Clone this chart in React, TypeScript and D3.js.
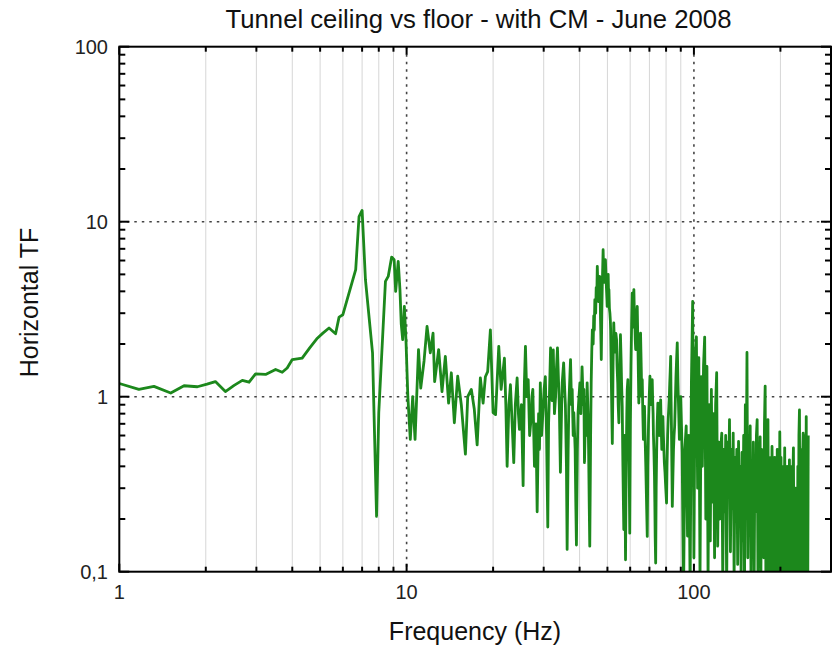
import React from "react";
import * as d3 from "d3";

// Frequency (Hz) / transfer-function pairs, 1–11 Hz
const lowBand: [number, number][] = [
  [1.0, 1.19], [1.17, 1.1], [1.32, 1.145], [1.51, 1.05], [1.68, 1.155], [1.87, 1.14],
  [2.02, 1.18], [2.16, 1.22], [2.34, 1.07], [2.51, 1.16], [2.68, 1.24], [2.83, 1.21],
  [2.98, 1.35], [3.23, 1.34], [3.5, 1.43], [3.69, 1.38], [3.84, 1.46], [4.0, 1.63],
  [4.33, 1.66], [4.6, 1.9], [4.89, 2.16], [5.1, 2.3], [5.37, 2.47], [5.66, 2.29],
  [5.82, 2.85], [6.0, 2.94], [6.65, 5.32], [6.83, 10.7], [7.0, 11.6], [7.19, 4.66],
  [7.61, 1.78], [7.86, 0.207], [8.0, 0.81], [8.44, 4.56], [8.63, 4.87], [8.87, 6.28],
  [9.05, 6.06], [9.16, 4.0], [9.35, 5.94], [9.48, 4.1], [9.58, 2.6], [9.69, 2.12],
  [9.82, 3.28], [9.95, 2.1], [10.1, 1.0], [10.3, 0.57], [10.5, 1.0], [10.7, 0.57],
];

// 11–88 Hz
const midBand: [number, number][] = [
  [11.0, 1.86], [11.2, 1.12], [11.5, 1.6], [11.78, 2.52], [12.09, 1.78], [12.36, 2.31],
  [12.52, 1.22], [12.93, 1.86], [13.28, 1.07], [13.64, 1.7], [14.0, 0.92], [14.31, 1.37],
  [14.66, 0.71], [15.06, 1.31], [15.5, 0.9], [16.02, 0.47], [16.32, 1.0], [16.8, 1.1],
  [17.2, 0.85], [17.6, 0.53], [18.06, 1.28], [18.46, 0.92], [18.8, 1.3], [19.15, 1.39],
  [19.57, 2.41], [20.0, 0.81], [20.4, 0.79], [20.93, 1.94], [21.33, 1.1], [21.9, 1.66],
  [22.15, 0.9], [22.38, 0.4], [22.7, 0.9], [22.98, 1.17], [23.3, 0.7], [23.6, 0.42],
  [23.9, 0.9], [24.25, 1.28], [24.5, 0.8], [24.7, 0.65], [25.1, 0.9], [25.44, 0.31],
  [25.7, 1.2], [25.92, 1.94], [26.2, 1.0], [26.5, 1.25], [26.8, 0.6], [27.1, 0.74],
  [27.3, 1.0], [27.5, 1.1], [27.86, 0.4], [28.2, 0.7], [28.47, 0.22], [28.8, 0.8],
  [29.0, 0.5], [29.2, 1.2], [29.5, 0.6], [29.8, 0.8], [30.1, 1.1], [30.4, 1.3],
  [30.7, 0.6], [31.0, 0.18], [31.2, 0.7], [31.4, 1.0], [31.7, 1.9], [31.9, 1.2],
  [32.1, 0.95], [32.4, 1.85], [32.7, 0.8], [33.0, 1.0], [33.2, 1.4], [33.5, 1.9],
  [33.8, 1.2], [34.0, 0.9], [34.3, 0.37], [34.6, 0.8], [34.8, 1.2], [35.2, 1.56],
  [35.5, 1.1], [35.7, 0.9], [36.0, 0.4], [36.2, 0.134], [36.5, 0.5], [36.7, 0.9],
  [37.0, 1.3], [37.2, 1.63], [37.5, 0.9], [37.7, 1.1], [38.0, 0.6], [38.2, 0.81],
  [38.6, 0.5], [38.8, 0.25], [39.0, 0.142], [39.3, 0.5], [39.5, 0.8], [39.8, 1.0],
  [40.1, 1.2], [40.4, 0.8], [40.8, 1.48], [41.2, 0.9], [41.4, 1.1], [41.6, 0.42],
  [42.0, 0.9], [42.2, 0.6], [42.5, 1.2], [42.8, 0.8], [43.0, 0.5], [43.2, 0.25],
  [43.4, 0.14], [43.7, 0.6], [43.9, 1.2], [44.1, 1.8], [44.3, 2.41], [44.6, 2.0],
  [44.8, 2.9], [45.0, 2.4], [45.2, 3.58], [45.5, 3.0], [45.7, 4.2], [45.9, 3.6],
  [46.1, 5.56], [46.3, 4.3], [46.5, 3.5], [46.8, 4.4], [47.0, 4.87], [47.2, 3.6],
  [47.3, 2.8], [47.5, 2.0], [47.6, 1.63], [47.8, 3.0], [48.0, 4.5], [48.15, 5.5],
  [48.3, 6.92], [48.5, 5.2], [48.8, 4.5], [49.0, 5.5], [49.2, 6.06], [49.4, 5.0],
  [49.6, 4.2], [49.8, 3.6], [49.9, 3.28], [50.1, 4.2], [50.3, 5.0], [50.5, 3.6],
  [50.6, 4.09], [50.8, 3.2], [51.0, 3.0], [51.2, 2.7], [51.3, 2.41], [51.6, 1.2],
  [52.0, 0.54], [52.2, 1.0], [52.3, 1.5], [52.5, 2.2], [52.6, 2.64], [52.9, 2.0],
  [53.2, 1.8], [53.5, 2.3], [53.8, 2.12], [54.0, 1.5], [54.3, 1.2], [54.5, 0.9],
  [54.8, 0.71], [55.0, 1.1], [55.2, 1.5], [55.5, 2.26], [55.8, 1.6], [56.0, 1.2],
  [56.3, 0.88], [56.6, 0.4], [57.0, 0.174], [57.2, 0.35], [57.4, 0.6], [57.6, 0.25],
  [57.8, 0.117], [58.1, 0.4], [58.4, 0.8], [58.6, 1.1], [58.9, 1.25], [59.1, 0.8],
  [59.4, 0.5], [59.6, 0.3], [59.8, 0.166], [60.1, 0.7], [60.4, 1.5], [60.7, 2.6],
  [61.0, 3.9], [61.2, 3.0], [61.4, 2.5], [61.6, 3.2], [61.8, 4.09], [62.0, 3.2],
  [62.3, 2.6], [62.5, 2.1], [62.7, 1.86], [62.9, 2.2], [63.1, 2.6], [63.3, 3.0],
  [63.5, 3.28], [63.7, 2.4], [63.9, 1.8], [64.1, 1.3], [64.3, 0.92], [64.5, 1.2],
  [64.8, 1.6], [65.0, 2.0], [65.2, 2.31], [65.4, 1.8], [65.6, 1.4], [65.8, 1.0],
  [66.1, 1.25], [66.4, 0.8], [66.7, 0.57], [67.0, 0.7], [67.3, 0.88], [67.6, 0.6],
  [68.0, 0.4], [68.4, 0.25], [68.8, 0.159], [69.1, 0.4], [69.5, 0.7], [69.9, 1.0],
  [70.3, 1.31], [70.6, 1.0], [71.0, 0.9], [71.3, 1.1], [71.6, 1.25], [71.8, 1.0],
  [72.1, 0.8], [72.3, 0.6], [72.6, 0.48], [72.9, 0.35], [73.1, 0.25], [73.3, 0.16],
  [73.6, 0.112], [73.9, 0.3], [74.2, 0.5], [74.5, 0.7], [74.9, 0.92], [75.3, 0.7],
  [75.7, 0.6], [76.1, 0.8], [76.6, 0.96], [76.9, 0.7], [77.3, 0.5], [77.6, 0.6],
  [78.0, 0.77], [78.3, 0.6], [78.6, 0.5], [78.9, 0.42], [79.3, 0.37], [79.8, 0.3],
  [80.3, 0.247], [80.6, 0.4], [81.0, 0.6], [81.4, 0.75], [81.8, 0.88], [82.1, 1.0],
  [82.4, 1.2], [82.7, 1.4], [83.0, 1.7], [83.2, 1.1], [83.5, 0.7], [83.8, 0.4],
  [84.1, 0.236], [84.5, 0.35], [84.9, 0.5], [85.3, 0.6], [85.7, 0.68], [86.1, 0.9],
  [86.6, 1.3], [87.0, 1.6], [87.5, 2.03],
];

// 88–250 Hz, one value per 1 Hz bin
const highStartHz = 88;
const highStepHz = 1;
const highBand: number[] = [
  1.2, 0.57, 1.0, 0.48, 0.07, 0.5, 0.68, 0.16, 0.6, 0.08,
  1.2, 3.5, 0.12, 1.6, 2.2, 0.3, 1.67, 0.09, 1.3, 0.4,
  1.5, 2.19, 0.2, 1.49, 0.09, 0.9, 0.15, 1.1, 0.25, 0.8,
  0.12, 0.9, 1.37, 0.14, 0.55, 0.2, 0.5, 0.62, 0.09, 0.5,
  0.22, 0.6, 0.08, 0.55, 0.3, 0.74, 0.13, 0.5, 0.23, 0.62,
  0.09, 0.45, 0.25, 0.5, 0.11, 0.555, 0.2, 0.4, 0.09, 0.48,
  0.15, 0.6, 0.08, 0.9, 0.3, 1.79, 0.12, 0.5, 0.2, 0.68,
  0.09, 0.4, 0.18, 0.55, 0.08, 0.45, 0.22, 0.6, 0.74, 0.1,
  0.4, 0.16, 0.59, 0.08, 0.5, 0.2, 0.45, 0.12, 0.7, 1.15,
  0.09, 0.5, 0.25, 0.74, 0.08, 0.4, 0.15, 0.45, 0.1, 0.52,
  0.2, 0.4, 0.08, 0.45, 0.18, 0.35, 0.09, 0.5, 0.13, 0.4,
  0.08, 0.63, 0.2, 0.45, 0.1, 0.35, 0.08, 0.4, 0.15, 0.51,
  0.09, 0.35, 0.12, 0.4, 0.08, 0.3, 0.16, 0.436, 0.08, 0.3,
  0.11, 0.4, 0.08, 0.35, 0.51, 0.1, 0.3, 0.08, 0.3, 0.12,
  0.25, 0.08, 0.4, 0.14, 0.6, 0.84, 0.09, 0.4, 0.12, 0.5,
  0.08, 0.45, 0.62, 0.1, 0.5, 0.08, 0.6, 0.15, 0.77, 0.09,
  0.5, 0.08, 0.6,
];

const xMajorTicks = [1, 10, 100];
const xTickLabels = ["1", "10", "100"];
const yMajorTicks = [0.1, 1, 10, 100];
const yTickLabels = ["0,1", "1", "10", "100"];
const titleText = "Tunnel ceiling vs floor - with CM - June 2008";
const xLabelText = "Frequency (Hz)";
const yLabelText = "Horizontal TF";

const FONT = "'Liberation Sans', Arial, Helvetica, sans-serif";

export default function App() {
  const W = 838;
  const H = 648;
  const L = 119.3;
  const R = 831;
  const T = 46.7;
  const B = 571.7;

  const x = d3.scaleLog().domain([1, 300]).range([L, R]);
  const y = d3.scaleLog().domain([0.1, 100]).range([B, T]);

  const highPairs: [number, number][] = highBand.map((v, i) => [highStartHz + i * highStepHz, v]);
  const data: [number, number][] = [...lowBand, ...midBand, ...highPairs];

  const line = d3
    .line<[number, number]>()
    .x((d) => x(d[0]))
    .y((d) => y(d[1]));

  const xMinor: number[] = [];
  [1, 10, 100].forEach((dec) => {
    for (let m = 2; m <= 9; m++) {
      const v = m * dec;
      if (v < 300) xMinor.push(v);
    }
  });
  const yMinor: number[] = [];
  [0.1, 1, 10].forEach((dec) => {
    for (let m = 2; m <= 9; m++) yMinor.push(m * dec);
  });

  const dotted = { stroke: "#444", strokeWidth: 1.6, strokeDasharray: "2.5,5" };

  return (
    <svg
      width={W}
      height={H}
      style={{ position: "absolute", left: 0, top: 0, background: "#fff" }}
      fontFamily={FONT}
    >
      <rect x={0} y={0} width={W} height={H} fill="#fff" />
      <defs>
        <clipPath id="plotClip">
          <rect x={L} y={T} width={R - L} height={B - T} />
        </clipPath>
      </defs>

      {/* minor vertical grid */}
      {xMinor.map((v) => (
        <line key={"gx" + v} x1={x(v)} x2={x(v)} y1={T} y2={B} stroke="#d6d6d6" strokeWidth={1} />
      ))}
      {/* major vertical dotted grid */}
      {[10, 100].map((v) => (
        <line key={"gX" + v} x1={x(v)} x2={x(v)} y1={T} y2={B} {...dotted} />
      ))}
      {/* major horizontal dotted grid */}
      {[1, 10].map((v) => (
        <line key={"gY" + v} x1={L} x2={R} y1={y(v)} y2={y(v)} {...dotted} />
      ))}

      {/* data */}
      <g clipPath="url(#plotClip)">
        <path
          d={line(data) || ""}
          fill="none"
          stroke="#1c881c"
          strokeWidth={2.8}
          strokeLinejoin="round"
        />
      </g>

      {/* frame */}
      <rect x={L} y={T} width={R - L} height={B - T} fill="none" stroke="#000" strokeWidth={2} />

      {/* y ticks */}
      {yMinor.map((v) => (
        <g key={"ty" + v}>
          <line x1={L} x2={L + 6} y1={y(v)} y2={y(v)} stroke="#000" strokeWidth={2} />
          <line x1={R} x2={R - 6} y1={y(v)} y2={y(v)} stroke="#000" strokeWidth={2} />
        </g>
      ))}
      {yMajorTicks.map((v) => (
        <g key={"tY" + v}>
          <line x1={L} x2={L + 10} y1={y(v)} y2={y(v)} stroke="#000" strokeWidth={2} />
          <line x1={R} x2={R - 10} y1={y(v)} y2={y(v)} stroke="#000" strokeWidth={2} />
        </g>
      ))}
      {/* x ticks */}
      {xMinor.map((v) => (
        <g key={"tx" + v}>
          <line x1={x(v)} x2={x(v)} y1={B} y2={B - 5} stroke="#000" strokeWidth={2} />
          <line x1={x(v)} x2={x(v)} y1={T} y2={T + 5} stroke="#000" strokeWidth={2} />
        </g>
      ))}
      {xMajorTicks.map((v) => (
        <g key={"tX" + v}>
          <line x1={x(v)} x2={x(v)} y1={B} y2={B - 8} stroke="#000" strokeWidth={2} />
          <line x1={x(v)} x2={x(v)} y1={T} y2={T + 8} stroke="#000" strokeWidth={2} />
        </g>
      ))}

      {/* tick labels */}
      {yMajorTicks.map((v, i) => (
        <text
          key={"ly" + v}
          x={108}
          y={y(v)}
          dy="0.36em"
          textAnchor="end"
          fontSize={20}
          fill="#222"
        >
          {yTickLabels[i]}
        </text>
      ))}
      {xMajorTicks.map((v, i) => (
        <text key={"lx" + v} x={x(v)} y={599} textAnchor="middle" fontSize={20} fill="#222">
          {xTickLabels[i]}
        </text>
      ))}

      {/* title and axis labels */}
      <text x={478.5} y={28} textAnchor="middle" fontSize={25.7} fill="#111">
        {titleText}
      </text>
      <text x={475} y={640} textAnchor="middle" fontSize={25} fill="#111">
        {xLabelText}
      </text>
      <text
        transform={`translate(38,${302.5}) rotate(-90)`}
        textAnchor="middle"
        fontSize={25}
        fill="#111"
      >
        {yLabelText}
      </text>
    </svg>
  );
}
